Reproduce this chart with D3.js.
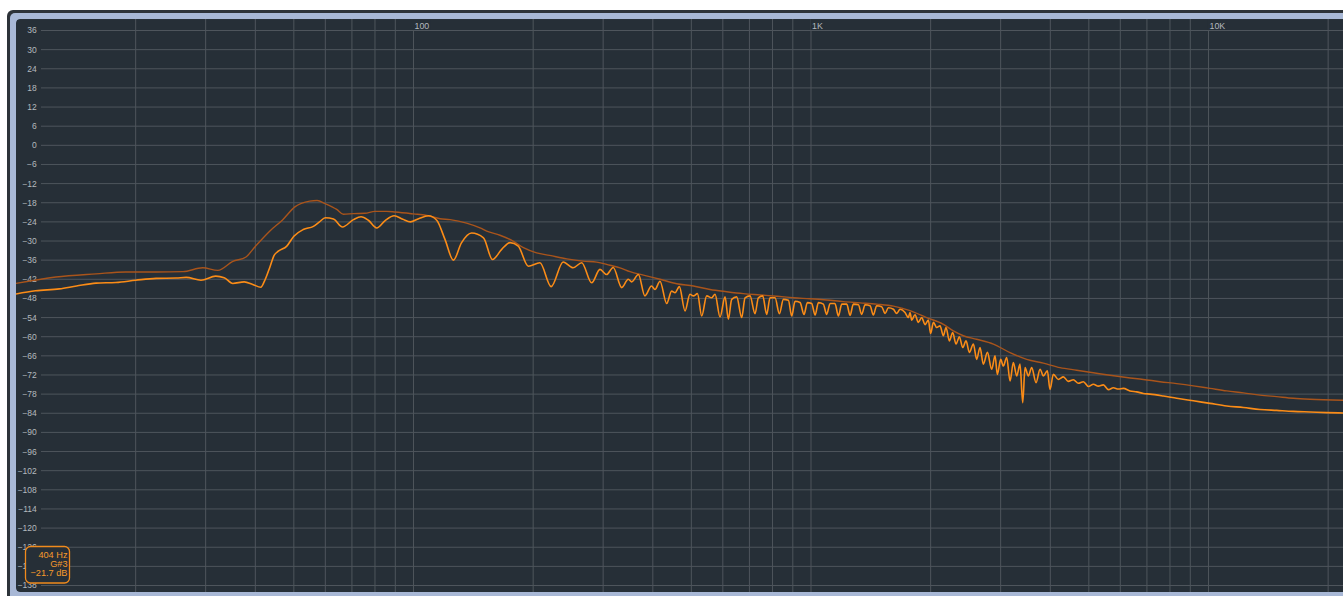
<!DOCTYPE html>
<html><head><meta charset="utf-8">
<script src="https://cdn.jsdelivr.net/npm/d3@7"></script>
<style>html,body{margin:0;padding:0;background:#fff;overflow:hidden}</style>
</head><body><svg id="c" width="1343" height="596"></svg>
<script>
// ---- data ----
const dbTicks = [36,30,24,18,12,6,0,-6,-12,-18,-24,-30,-36,-42,-48,-54,-60,-66,-72,-78,-84,-90,-96,-102,-108,-114,-120,-126,-132,-138];
const gridFreqs = [20,30,40,50,60,70,80,90,100,200,300,400,500,600,700,800,900,1000,2000,3000,4000,5000,6000,7000,8000,9000,10000,20000];
const labelFreqs = [100,1000,10000];
const labelTexts = ["100","1K","10K"];
const readout = ["404 Hz","G#3","\u221221.7 dB"];

const spectrumHz = [10,11.2,12.85,14.2,15.9,17.85,20,22.5,25.3,26.8,29.2,31.8,33.4,35.1,37.5,39.4,41.3,42.2,43.6,44.6,45.7,48,50,52.8,56,58,60,62.9,66.3,70.6,73.8,77,80.8,85,89.4,94,98.2,103,109,114.4,120,126,132,140,150,158,166.7,175,183.5,194.5,208,222,238,252,265,280.7,294.5,306,318,334,347,354,368,382,397,405,417,433.5,446,455,466.5,482,496,506,518,531,546.5,562.6,573.6,590.4,607.8,619.6,631.7,650.3,669.4,682.4,702.5,723.1,737.2,756,773.7,788.8,812,832.6,852.1,877.2,894.3,911.7,938.5,960.5,979.2,1004,1024,1044,1074,1095,1117,1149,1172,1195,1230,1254,1278,1316,1341,1368,1408,1435,1463,1506,1536,1566,1612,1643,1675,1724,1758,1775,1792,1827,1862,1899,1936,1973,2000,2032,2071,2112,2153,2186,2229,2272,2317,2362,2408,2455,2503,2561,2611,2662,2714,2778,2848,2904,2943,3001,3047,3107,3168,3229,3292,3356,3409,3455,3522,3591,3683,3769,3842,3932,3993,4071,4191,4314,4441,4571,4706,4844,4986,5133,5283,5439,5599,5763,5933,6107,6347,6597,6857,7127,7699,8318,9161,10090,11112,12239,13479,14845,16349,18006,19831,21799];
const spectrumDb = [-46.6,-45.6,-45.0,-44.1,-43.2,-43.0,-42.3,-41.7,-41.6,-41.4,-42.3,-41.0,-41.5,-43.3,-42.8,-43.6,-44.5,-42.5,-37.9,-34.5,-33.2,-31.6,-28.5,-26.4,-25.4,-24.0,-22.7,-23.1,-25.6,-23.3,-22.4,-23.5,-25.9,-23.5,-22.1,-23.2,-24.0,-23.0,-22.1,-23.5,-29.5,-36.0,-30.6,-27.5,-29.0,-35.8,-32.6,-30.5,-31.6,-37.9,-36.8,-44.3,-36.6,-38.4,-36.8,-43.1,-38.9,-40.5,-38.3,-44.6,-42.0,-42.8,-40.5,-47.2,-44.1,-45.2,-42.6,-49.6,-45.7,-46.2,-44.3,-51.9,-46.7,-47.2,-46.5,-53.5,-47.2,-47.8,-46.7,-53.8,-47.5,-54.5,-48.3,-47.5,-54.0,-47.8,-47.2,-52.8,-47.8,-47.2,-53.0,-47.8,-47.8,-52.8,-48.3,-48.6,-53.5,-48.9,-49.3,-53.0,-49.3,-49.6,-53.2,-49.3,-49.8,-53.0,-49.6,-49.6,-53.5,-49.8,-49.8,-53.3,-49.8,-50.0,-53.0,-50.0,-50.3,-53.2,-50.3,-50.6,-52.7,-50.9,-51.4,-52.7,-51.4,-52.4,-54.0,-52.4,-54.8,-53.1,-55.5,-54.0,-56.2,-54.8,-59.0,-55.5,-57.1,-56.6,-59.7,-57.1,-61.3,-58.7,-62.3,-60.0,-63.4,-61.3,-64.9,-62.3,-67.1,-63.4,-68.6,-64.9,-70.2,-66.0,-71.8,-67.1,-69.2,-66.5,-73.9,-68.1,-72.3,-68.6,-80.7,-69.7,-72.3,-69.7,-74.4,-70.2,-72.3,-70.7,-76.5,-71.8,-73.4,-72.6,-74.0,-73.5,-74.6,-74.1,-75.6,-74.9,-75.5,-75.1,-76.6,-76.0,-76.4,-76.2,-77.0,-77.3,-77.8,-78.0,-78.6,-79.3,-80.1,-80.9,-81.7,-82.2,-82.8,-83.1,-83.4,-83.6,-83.8,-83.9];

const holdHz = [10,12.6,15.9,18.9,22.5,26.3,29.5,32.2,35.1,37.9,40,43.4,46.9,50.3,54.8,57.2,60,64.1,66.6,70.6,75.5,80,85.6,90,100,108,116.6,123.6,136,147,152.8,165,178,189,204,220,243,267,289,312,330.8,350.5,378.7,417.1,459.4,505.9,557.2,613.7,675.9,744.4,819.8,902.9,994.4,1095,1206,1329,1463,1612,1775,1954,2153,2281,2417,2611,2876,3168,3489,3842,4231,4660,5133,5653,6226,6857,7552,8318,9161,10090,11112,12239,13479,14845,16349,18006,21799];
const holdDb = [-43.3,-41.3,-40.3,-39.7,-39.7,-39.6,-38.4,-39.2,-36.4,-35.0,-31.7,-27.0,-23.3,-19.3,-17.5,-17.3,-18.3,-20.1,-21.6,-21.4,-21.3,-20.7,-20.7,-20.9,-21.5,-22.0,-23.0,-23.3,-24.4,-25.9,-26.9,-28.2,-30.0,-32.1,-33.7,-34.5,-35.6,-36.3,-36.6,-37.6,-38.4,-39.6,-40.7,-42.0,-43.4,-44.1,-45.2,-45.9,-46.5,-46.9,-47.3,-47.8,-48.1,-48.5,-49.0,-49.4,-49.8,-50.4,-51.8,-54.0,-56.1,-58.2,-59.7,-60.8,-62.3,-65.0,-67.1,-68.3,-69.7,-70.5,-71.3,-72.1,-72.8,-73.4,-74.1,-74.7,-75.4,-76.2,-77.0,-77.6,-78.3,-78.8,-79.3,-79.6,-79.9];

// ---- drawing ----
const W = 1343, H = 596;
const svg = d3.select("#c");
const FONT = "'Liberation Sans', Arial, sans-serif";
const BG = "#262f37", GRID = "#4e555c", LABEL = "#b4b9be";

const x = d3.scaleLog().domain([10, 22050]).range([16, 1345]);
const y = d3.scaleLinear().domain([36, -138]).range([30.5, 585.5]);

// frame
svg.append("rect").attr("x",7).attr("y",10).attr("width",W).attr("height",H).attr("rx",6).attr("fill","#2d3339");
svg.append("rect").attr("x",10).attr("y",13).attr("width",W).attr("height",H).attr("rx",5).attr("fill","#a8b8d6");

const defs = svg.append("defs");
defs.append("clipPath").attr("id","clip").append("rect")
  .attr("x",16).attr("y",19).attr("width",W).attr("height",573).attr("rx",4);

const g = svg.append("g").attr("clip-path","url(#clip)");
g.append("rect").attr("x",16).attr("y",19).attr("width",W).attr("height",573).attr("rx",4).attr("fill",BG);

// horizontal grid
g.selectAll("line.h").data(dbTicks).enter().append("line")
  .attr("x1",41).attr("x2",W).attr("y1",d=>y(d)).attr("y2",d=>y(d))
  .attr("stroke",GRID).attr("stroke-width",1);
// vertical grid
g.selectAll("line.v").data(gridFreqs).enter().append("line")
  .attr("x1",d=>x(d)).attr("x2",d=>x(d)).attr("y1",19).attr("y2",592)
  .attr("stroke",GRID).attr("stroke-width",1);

// y labels
g.selectAll("text.y").data(dbTicks).enter().append("text")
  .attr("x",36.8).attr("y",d=>y(d)).attr("dy","0.35em")
  .attr("text-anchor","end").attr("font-family",FONT).attr("font-size","8.5px")
  .attr("fill",LABEL)
  .text(d=> d<0 ? "\u2212"+Math.abs(d) : String(d));

// x labels with masking background
labelFreqs.forEach((f,i)=>{
  const lg = g.append("g");
  const bgR = lg.append("rect").attr("fill",BG);
  const t = lg.append("text").attr("x",x(f)+1).attr("y",29)
    .attr("font-family",FONT).attr("font-size","8.8px").attr("fill",LABEL)
    .text(labelTexts[i]);
  const w = t.node().getComputedTextLength();
  bgR.attr("x",x(f)-0.5).attr("y",19).attr("width",w+3).attr("height",11);
});

// curves
const line = d3.line().x(d=>x(d[0])).y(d=>y(d[1])).curve(d3.curveMonotoneX);
const hold = holdHz.map((f,i)=>[f,holdDb[i]]);
const spec = spectrumHz.map((f,i)=>[f,spectrumDb[i]]);
g.append("path").datum(hold).attr("d",line).attr("fill","none")
  .attr("stroke","#a9541b").attr("stroke-width",1.4).attr("stroke-linejoin","round");
g.append("path").datum(spec).attr("d",line).attr("fill","none")
  .attr("stroke","#fb8c17").attr("stroke-width",1.6).attr("stroke-linejoin","round");

// readout box
const rb = svg.append("g");
rb.append("rect").attr("x",25.5).attr("y",546.5).attr("width",44).attr("height",36.5).attr("rx",5)
  .attr("fill",BG).attr("stroke","#f08a1c").attr("stroke-width",1.3);
rb.selectAll("text").data(readout).enter().append("text")
  .attr("x",67.5).attr("y",(d,i)=>557.6+i*9.4)
  .attr("text-anchor","end").attr("font-family",FONT).attr("font-size","9.2px")
  .attr("fill","#f59a2c").text(d=>d);
</script></body></html>
